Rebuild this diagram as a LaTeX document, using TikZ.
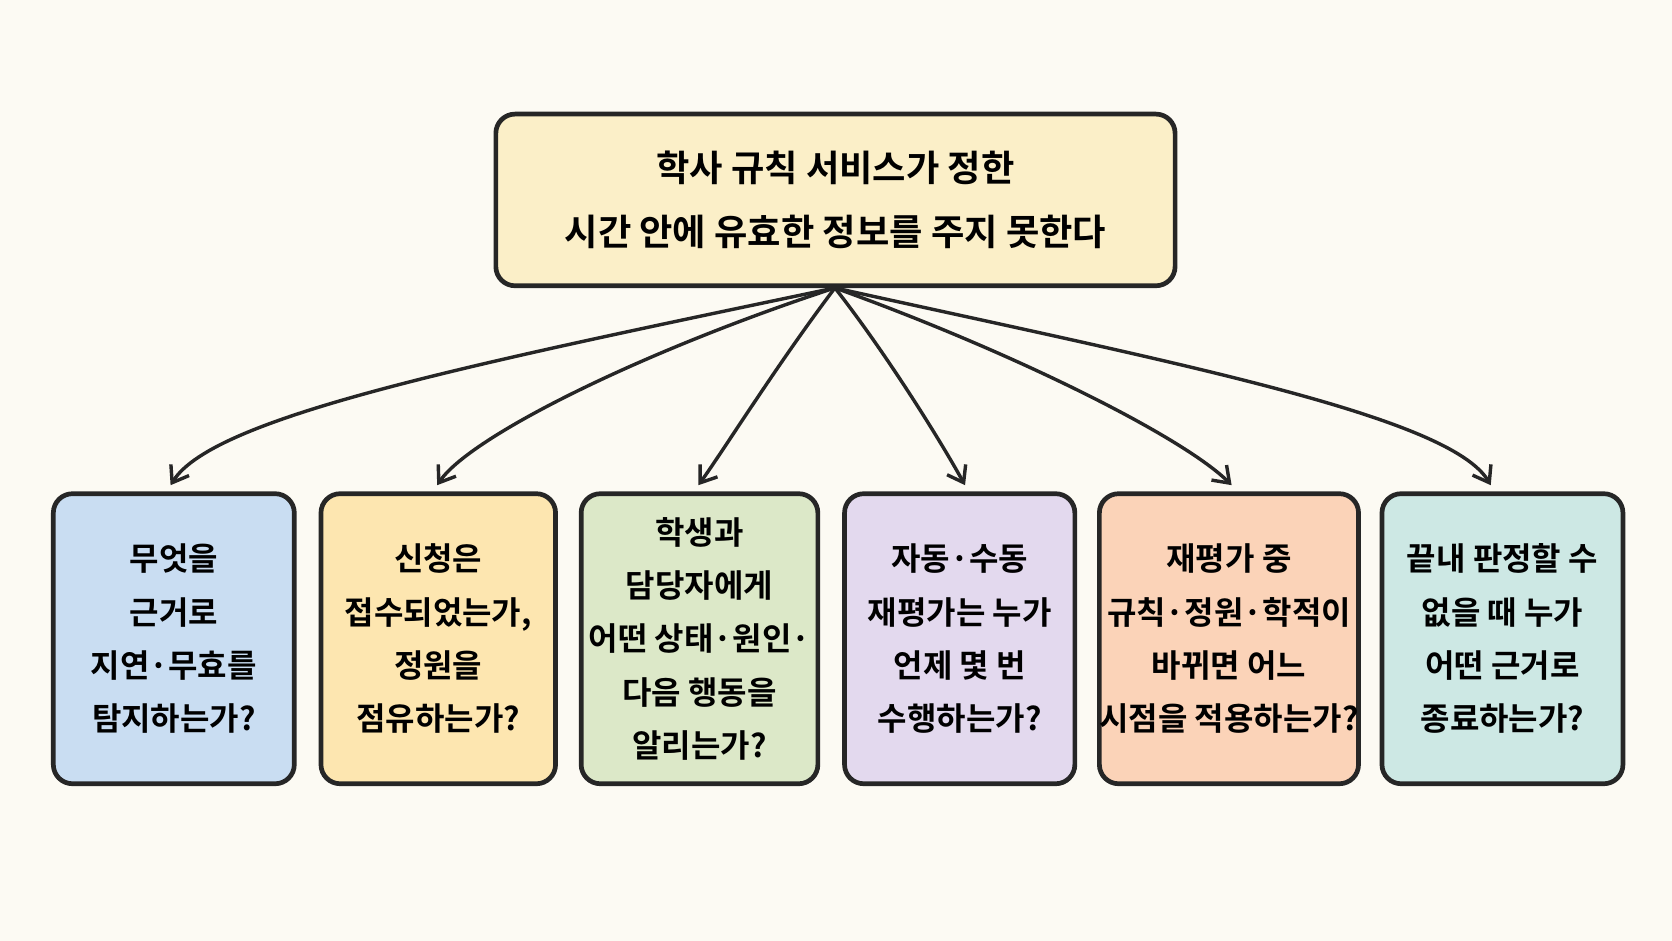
\documentclass[tikz,border=0pt]{standalone}
\usepackage{fontspec}
\usetikzlibrary{arrows.meta}
\setmainfont{Noto Sans CJK KR}[BoldFont={* Bold}]
\begin{document}
\begin{tikzpicture}[x=0.5pt,y=-0.5pt,
  box/.style={draw=black!85,line width=2.2pt,rounded corners=9pt,align=center,font=\bfseries\fontsize{15}{25}\selectfont,inner sep=0pt},
  arr/.style={-{Straight Barb[length=7pt,width=10pt]},line width=1.6pt,draw=black!85}]
\definecolor{bg}{HTML}{FCFAF3}
\fill[bg] (0,0) rectangle (1568,882);
\useasboundingbox (0,0) rectangle (1568,882);
\node[box,fill={rgb,255:red,251;green,239;blue,200},minimum width=318.5pt,minimum height=80.5pt,font=\bfseries\fontsize{17}{30}\selectfont] (top) at (783.5,187.5) {학사 규칙 서비스가 정한\\시간 안에 유효한 정보를 주지 못한다};
\node[box,fill={rgb,255:red,201;green,221;blue,242},minimum width=113pt,minimum height=136pt] (b1) at (163,599) {무엇을\\근거로\\지연·무효를\\탐지하는가?};
\node[box,fill={rgb,255:red,253;green,230;blue,176},minimum width=110pt,minimum height=136pt] (b2) at (411,599) {신청은\\접수되었는가,\\정원을\\점유하는가?};
\node[box,fill={rgb,255:red,220;green,232;blue,200},minimum width=111pt,minimum height=136pt] (b3) at (656,599) {학생과\\담당자에게\\어떤 상태·원인·\\다음 행동을\\알리는가?};
\node[box,fill={rgb,255:red,227;green,217;blue,238},minimum width=108pt,minimum height=136pt] (b4) at (900,599) {자동·수동\\재평가는 누가\\언제 몇 번\\수행하는가?};
\node[box,fill={rgb,255:red,251;green,211;blue,184},minimum width=119.5pt,minimum height=136pt] (b5) at (1152.5,599) {재평가 중\\규칙·정원·학적이\\바뀌면 어느\\시점을 적용하는가?};
\node[box,fill={rgb,255:red,205;green,232;blue,228},minimum width=113pt,minimum height=136pt] (b6) at (1409,599) {끝내 판정할 수\\없을 때 누가\\어떤 근거로\\종료하는가?};
\coordinate (s) at (783,270);
\draw[arr] (s) .. controls (450,340) and (200,390) .. (160,455);
\draw[arr] (s) .. controls (600,330) and (440,410) .. (410,455);
\draw[arr] (s) .. controls (730,340) and (680,420) .. (655,455);
\draw[arr] (s) .. controls (830,330) and (880,410) .. (905,455);
\draw[arr] (s) .. controls (950,330) and (1110,410) .. (1155,455);
\draw[arr] (s) .. controls (1100,340) and (1360,390) .. (1398,455);
\end{tikzpicture}
\end{document}
